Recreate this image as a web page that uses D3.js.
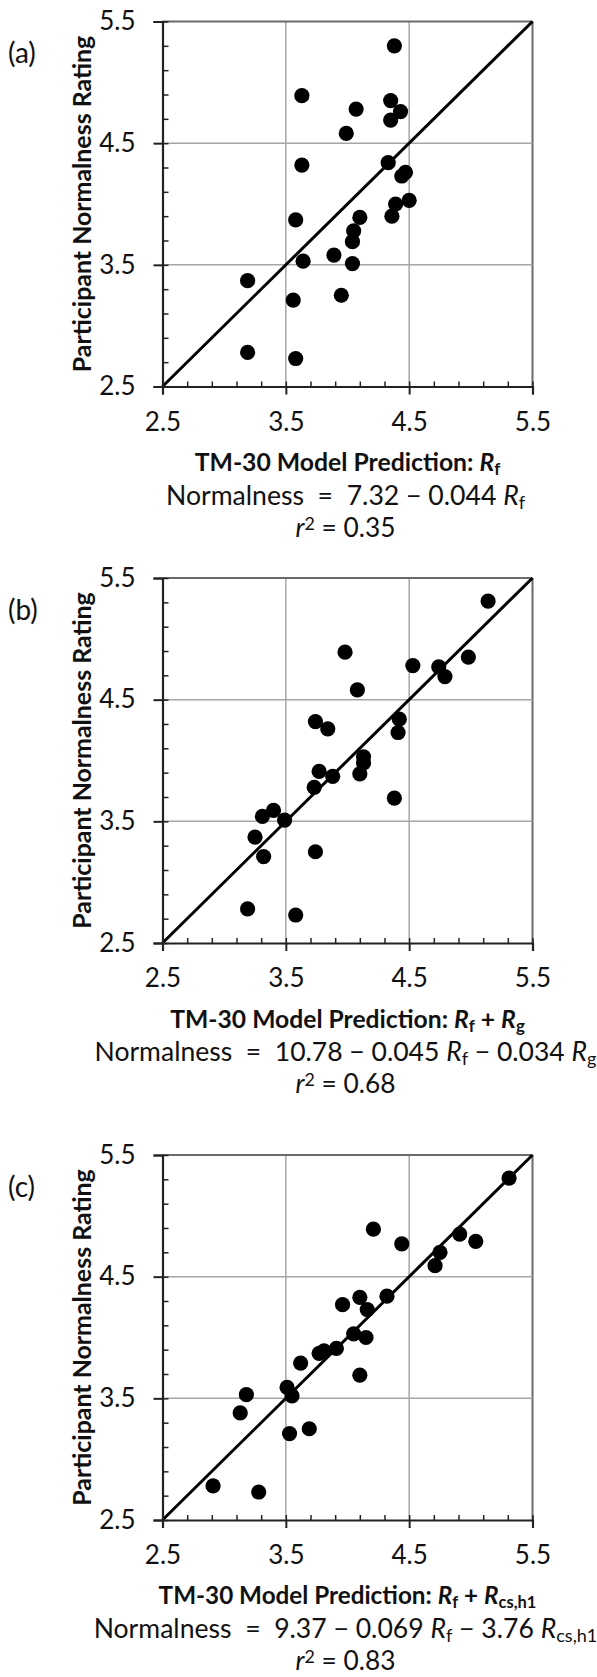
<!DOCTYPE html>
<html>
<head>
<meta charset="utf-8">
<script src="https://cdn.jsdelivr.net/npm/d3@7"></script>
<style>
  body { margin: 0; background: #fff; }
  svg text { font-family: Lato, "Open Sans", sans-serif; fill: #111; white-space: pre; }
</style>
</head>
<body>
<script>
// data: x = model prediction, y = participant rating
var ticks = [2.5, 3.5, 4.5, 5.5];
var panelLabels = ["(a)", "(b)", "(c)"];

var xA = [4.38, 3.63, 4.07, 4.35, 4.43, 4.35, 3.99, 3.63, 4.33, 4.47, 4.44, 4.50, 4.39,
          4.36, 4.10, 3.58, 4.05, 4.04, 3.89, 3.64, 4.04, 3.19, 3.56, 3.95, 3.19, 3.58];
var yA = [5.30, 4.89, 4.78, 4.85, 4.76, 4.69, 4.58, 4.32, 4.34, 4.26, 4.23, 4.03, 4.00,
          3.90, 3.89, 3.87, 3.78, 3.69, 3.58, 3.53, 3.51, 3.37, 3.21, 3.25, 2.78, 2.73];

var xB = [5.14, 3.98, 4.53, 4.74, 4.79, 4.98, 4.08, 3.74, 3.84, 4.42, 4.41, 4.13, 4.13,
          4.10, 3.77, 3.88, 3.73, 4.38, 3.40, 3.31, 3.49, 3.25, 3.32, 3.74, 3.19, 3.58];
var yB = [5.31, 4.89, 4.78, 4.77, 4.69, 4.85, 4.58, 4.32, 4.26, 4.34, 4.23, 4.03, 3.98,
          3.89, 3.91, 3.87, 3.78, 3.69, 3.59, 3.54, 3.51, 3.37, 3.21, 3.25, 2.78, 2.73];

var xC = [5.31, 4.21, 4.44, 4.91, 5.04, 4.75, 4.71, 4.32, 4.10, 3.96, 4.16, 4.05, 4.15,
          3.91, 3.81, 3.77, 3.62, 4.10, 3.51, 3.55, 3.18, 3.13, 3.53, 3.69, 2.91, 3.28];
var yC = [5.31, 4.89, 4.77, 4.85, 4.79, 4.70, 4.59, 4.34, 4.33, 4.27, 4.23, 4.03, 4.00,
          3.91, 3.89, 3.87, 3.79, 3.69, 3.59, 3.52, 3.53, 3.38, 3.21, 3.25, 2.78, 2.73];

// text pieces: [string, kind]  kind: "" plain, "i" italic, "sub", "sup"
var xTitles = [
  [["TM-30 Model Prediction: ", ""], ["R", "i"], ["f", "sub"]],
  [["TM-30 Model Prediction: ", ""], ["R", "i"], ["f", "sub"], [" + ", ""], ["R", "i"], ["g", "sub"]],
  [["TM-30 Model Prediction: ", ""], ["R", "i"], ["f", "sub"], [" + ", ""], ["R", "i"], ["cs,h1", "sub"]]
];
var equations = [
  [["Normalness  =  7.32 \u2212 0.044 ", ""], ["R", "i"], ["f", "sub"]],
  [["Normalness  =  10.78 \u2212 0.045 ", ""], ["R", "i"], ["f", "sub"], [" \u2212 0.034 ", ""], ["R", "i"], ["g", "sub"]],
  [["Normalness  =  9.37 \u2212 0.069 ", ""], ["R", "i"], ["f", "sub"], [" \u2212 3.76 ", ""], ["R", "i"], ["cs,h1", "sub"]]
];
var rSquared = ["0.35", "0.68", "0.83"];

var xs = [xA, xB, xC], ys = [yA, yB, yC];

var w = 597, h = 1677;
var left = 162.5, right = 532.5, plotH = 365;
var tops = [21.5, 578, 1155];
var titleW = [306, 355, 378], eqW = [360, 502, 504];

var svg = d3.select("body").append("svg")
  .attr("width", w)
  .attr("height", h);

function rich(sel, parts) {
  parts.forEach(function(p) {
    var t = sel.append("tspan").text(p[0]);
    if (p[1] == "i") t.style("font-style", "italic");
    if (p[1] == "sub") t.attr("baseline-shift", "-22%").style("font-size", "68%").style("font-style", "normal");
    if (p[1] == "sup") t.attr("baseline-shift", "38%").style("font-size", "68%");
  });
  return sel;
}

function fitWidth(text, target) {
  var fs = parseFloat(text.style("font-size"));
  var bw = text.node().getBBox().width;
  text.style("font-size", (fs * target / bw) + "px");
}

var x = d3.scaleLinear().domain([2.5, 5.5]).range([left, right]);
var minor = d3.range(25, 56, 2).map(function(v) { return v / 10; });

tops.forEach(function(top, k) {
  var bottom = top + plotH;
  var y = d3.scaleLinear().domain([2.5, 5.5]).range([bottom, top]);
  var g = svg.append("g");

  // grid
  g.selectAll(".gx").data(ticks.slice(1)).enter().append("line")
    .attr("x1", function(d) { return x(d); }).attr("x2", function(d) { return x(d); })
    .attr("y1", top).attr("y2", bottom)
    .attr("stroke", function(d) { return d == 5.5 ? "#6a6a6a" : "#a6a6a6"; })
    .attr("stroke-width", function(d) { return d == 5.5 ? 2 : 1.5; });
  g.selectAll(".gy").data(ticks.slice(1)).enter().append("line")
    .attr("x1", left).attr("x2", right)
    .attr("y1", function(d) { return y(d); }).attr("y2", function(d) { return y(d); })
    .attr("stroke", function(d) { return d == 5.5 ? "#6a6a6a" : "#a6a6a6"; })
    .attr("stroke-width", function(d) { return d == 5.5 ? 2 : 1.5; });

  // 1:1 line
  var dom = x.domain();
  g.append("path")
    .attr("d", d3.line().x(function(d) { return x(d); }).y(function(d) { return y(d); })(dom))
    .attr("stroke", "#000").attr("stroke-width", 3).attr("fill", "none");

  // points
  g.selectAll("circle").data(d3.zip(xs[k], ys[k])).enter().append("circle")
    .attr("cx", function(d) { return x(d[0]); })
    .attr("cy", function(d) { return y(d[1]); })
    .attr("r", 7.6)
    .attr("fill", "#000");

  // minor ticks, pointing inward
  var mx = g.append("g").attr("transform", "translate(0," + bottom + ")")
    .call(d3.axisBottom(x).tickValues(minor).tickSizeInner(-5).tickSizeOuter(0).tickFormat(""));
  var my = g.append("g").attr("transform", "translate(" + left + ",0)")
    .call(d3.axisLeft(y).tickValues(minor).tickSizeInner(-6).tickSizeOuter(0).tickFormat(""));
  [mx, my].forEach(function(a) {
    a.select(".domain").remove();
    a.selectAll("line").attr("stroke", "#222").attr("stroke-width", 1.5);
  });

  // major axes
  var ax = g.append("g").attr("transform", "translate(0," + bottom + ")")
    .call(d3.axisBottom(x).tickValues(ticks).tickSize(8).tickPadding(18).tickFormat(d3.format(".1f")));
  var ay = g.append("g").attr("transform", "translate(" + left + ",0)")
    .call(d3.axisLeft(y).tickValues(ticks).tickSize(9).tickPadding(18).tickFormat(d3.format(".1f")));
  [ax, ay].forEach(function(a) {
    a.select(".domain").attr("stroke", "#222").attr("stroke-width", 2.2);
    a.selectAll("line").attr("stroke", "#222").attr("stroke-width", 2);
    a.selectAll("text").attr("font-family", null).style("font-size", "26px").attr("fill", "#111");
  });

  // panel letter
  g.append("text")
    .attr("x", 8).attr("y", top + 32).attr("dy", "0.35em")
    .style("font-size", "28px")
    .text(panelLabels[k]);

  // y title
  var yt = g.append("text")
    .attr("transform", "translate(82," + (top + plotH / 2) + ") rotate(-90)")
    .attr("text-anchor", "middle").attr("dy", "0.35em")
    .style("font-size", "22px").style("font-weight", "bold")
    .text("Participant Normalness Rating");
  fitWidth(yt, 337);

  var cx = (left + right) / 2;
  var xt = g.append("text")
    .attr("x", cx).attr("y", bottom + 76).attr("dy", "0.35em")
    .attr("text-anchor", "middle")
    .style("font-size", "24px").style("font-weight", "bold");
  rich(xt, xTitles[k]);
  fitWidth(xt, titleW[k]);

  var eq = g.append("text")
    .attr("x", cx - 2).attr("y", bottom + 109).attr("dy", "0.35em")
    .attr("text-anchor", "middle")
    .style("font-size", "26px");
  rich(eq, equations[k]);
  fitWidth(eq, eqW[k]);

  var rt = g.append("text")
    .attr("x", cx - 2).attr("y", bottom + 141).attr("dy", "0.35em")
    .attr("text-anchor", "middle")
    .style("font-size", "26px");
  rich(rt, [["r", "i"], ["2", "sup"], [" = " + rSquared[k], ""]]);
  fitWidth(rt, 100);
});
</script>
</body>
</html>
